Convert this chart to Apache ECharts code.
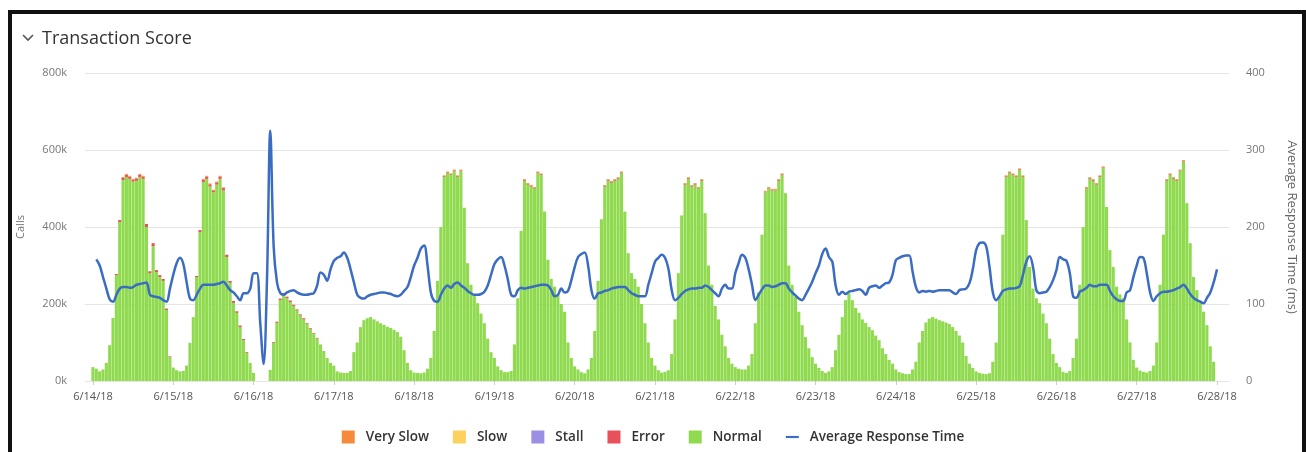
<!DOCTYPE html>
<html>
<head>
<meta charset="utf-8">
<script src="https://cdn.jsdelivr.net/npm/echarts/dist/echarts.min.js"></script>
<style>
html,body{margin:0;padding:0;background:#fff;}
#chart{position:absolute;left:0;top:0;width:1306px;height:452px;}
#frame{position:absolute;left:8px;top:10px;width:1298px;height:470px;border:4px solid #111;box-sizing:border-box;pointer-events:none;}
</style>
</head>
<body>
<div id="chart"></div>
<div id="frame"></div>
<script>
// ---- data (hourly, 6/14/18 00:00 .. 6/28/18 00:00) ----
const tickLabels = ['6/14/18','6/15/18','6/16/18','6/17/18','6/18/18','6/19/18','6/20/18','6/21/18','6/22/18','6/23/18','6/24/18','6/25/18','6/26/18','6/27/18','6/28/18'];
const callTicks = ['0k','200k','400k','600k','800k'];

// Normal calls (thousands per hour)
const normalCalls = [
  36,32,25,30,47,93,164,275,413,522,530,525,518,520,530,525,400,280,350,283,270,260,184,62,
  35,28,25,26,40,99,166,270,387,517,525,505,490,510,525,495,322,255,203,177,140,106,73,47,
  21,0,0,0,0,29,99,151,210,225,215,205,195,183,170,160,148,135,122,110,95,78,60,47,
  40,25,22,21,21,26,75,100,140,158,163,166,160,155,150,146,141,138,133,127,115,80,47,28,
  22,21,20,22,32,60,130,260,400,530,540,535,545,530,545,450,306,250,225,202,175,150,110,75,
  60,38,28,23,23,26,95,215,390,520,510,505,500,540,535,440,315,265,245,225,200,180,100,60,
  38,30,23,20,30,60,130,260,420,505,520,515,520,525,540,440,332,280,265,245,200,150,100,60,
  40,28,22,24,28,70,160,280,430,510,525,505,510,500,520,436,300,250,195,160,120,90,60,45,
  36,32,30,30,40,70,150,230,380,490,500,495,495,520,535,488,300,250,218,180,145,114,85,62,
  45,34,26,21,25,36,80,120,166,210,228,210,190,177,160,151,140,132,118,106,85,70,55,45,
  30,23,20,18,18,30,50,100,130,152,162,166,162,158,155,152,148,140,130,118,100,65,45,34,
  25,21,19,18,20,50,100,220,380,530,540,535,530,548,530,418,296,240,215,202,175,150,110,70,
  47,36,24,21,26,60,110,250,400,500,525,520,510,530,553,452,340,296,245,225,215,160,100,55,
  35,27,24,22,26,40,100,250,380,520,535,525,520,545,570,462,358,270,236,205,180,145,90,50
];
// Error calls (thousands per hour)
const errorCalls = [
  0,0,0,0,0,0,0,3,5,6,6,6,5,6,6,6,8,5,8,5,5,5,4,2,
  0,0,0,0,0,0,0,3,5,6,6,6,5,6,6,6,6,5,5,4,4,3,2,0,
  0,0,0,0,0,0,2,3,4,4,4,4,3,3,3,3,2,2,2,2,0,0,0,0,
  0,0,0,0,0,0,0,0,0,0,0,0,0,0,0,0,0,0,0,0,0,0,0,0,
  0,0,0,0,0,0,0,0,0,2,2,2,2,2,2,0,0,0,0,0,0,0,0,0,
  0,0,0,0,0,0,0,0,0,2,2,2,2,2,2,0,0,0,0,0,0,0,0,0,
  0,0,0,0,0,0,0,0,0,2,2,2,2,2,2,0,0,0,0,0,0,0,0,0,
  0,0,0,0,0,0,0,0,0,2,2,2,2,2,2,0,0,0,0,0,0,0,0,0,
  0,0,0,0,0,0,0,0,0,2,2,2,2,2,2,0,0,0,0,0,0,0,0,0,
  0,0,0,0,0,0,0,0,0,0,0,0,0,0,0,0,0,0,0,0,0,0,0,0,
  0,0,0,0,0,0,0,0,0,0,0,0,0,0,0,0,0,0,0,0,0,0,0,0,
  0,0,0,0,0,0,0,0,0,2,2,2,2,2,2,0,0,0,0,0,0,0,0,0,
  0,0,0,0,0,0,0,0,0,2,2,2,2,2,2,0,0,0,0,0,0,0,0,0,
  0,0,0,0,0,0,0,0,0,2,2,2,2,2,2,0,0,0,0,0,0,0,0,0
];
// Very slow calls (thousands per hour)
const verySlowCalls = [
  0,0,0,0,0,0,0,0,0,2,2,2,2,2,2,2,0,0,0,0,0,0,0,0,
  0,0,0,0,0,0,0,0,0,2,2,2,2,2,2,2,0,0,0,0,0,0,0,0,
  0,0,0,0,0,0,0,0,0,0,0,0,0,0,0,0,0,0,0,0,0,0,0,0,
  0,0,0,0,0,0,0,0,0,0,0,0,0,0,0,0,0,0,0,0,0,0,0,0,
  0,0,0,0,0,0,0,0,0,2,2,2,2,2,2,0,0,0,0,0,0,0,0,0,
  0,0,0,0,0,0,0,0,0,2,2,2,2,2,2,0,0,0,0,0,0,0,0,0,
  0,0,0,0,0,0,0,0,0,2,2,2,2,2,2,0,0,0,0,0,0,0,0,0,
  0,0,0,0,0,0,0,0,0,2,2,2,2,2,2,0,0,0,0,0,0,0,0,0,
  0,0,0,0,0,0,0,0,0,2,2,2,2,2,2,0,0,0,0,0,0,0,0,0,
  0,0,0,0,0,0,0,0,0,0,0,0,0,0,0,0,0,0,0,0,0,0,0,0,
  0,0,0,0,0,0,0,0,0,0,0,0,0,0,0,0,0,0,0,0,0,0,0,0,
  0,0,0,0,0,0,0,0,0,2,2,2,2,2,2,0,0,0,0,0,0,0,0,0,
  0,0,0,0,0,0,0,0,0,2,2,2,2,2,2,0,0,0,0,0,0,0,0,0,
  0,0,0,0,0,0,0,0,0,2,2,2,2,2,2,0,0,0,0,0,0,0,0,0
];
const slowCalls = [];
const stallCalls = [];
// Average response time (ms)
const responseTime = [
  158,150,135,120,106,103,112,120,122,122,121,122,125,126,127,128,112,110,109,108,105,103,120,138,
  153,160,152,128,107,105,112,120,125,125,125,125,126,127,129,124,118,115,110,105,114,114,120,140,
  140,75,22,130,325,175,128,114,112,115,117,118,115,113,112,112,113,114,124,141,138,130,145,156,
  160,162,167,160,145,128,112,108,107,110,112,113,114,115,115,114,113,111,110,112,117,122,135,150,
  160,172,176,150,115,104,103,112,120,124,121,126,128,124,121,117,114,112,112,113,116,124,138,152,
  158,161,150,132,112,110,118,121,120,121,122,123,124,125,125,124,118,110,112,120,115,117,131,148,
  161,165,167,150,118,107,114,115,117,118,120,121,122,122,122,118,114,112,110,110,110,125,140,155,
  160,164,160,146,118,105,108,113,117,119,120,120,121,121,124,122,118,114,110,120,125,120,120,140,
  153,164,160,145,125,105,112,119,124,124,122,123,125,127,127,120,115,111,107,105,112,120,129,140,
  150,165,172,161,155,124,112,116,113,116,117,118,119,117,112,121,123,124,121,124,127,128,138,157,
  160,162,163,163,142,122,115,117,116,117,116,117,118,118,118,118,115,113,118,119,120,127,145,170,
  179,180,175,148,115,105,110,117,119,120,120,121,123,138,155,162,148,118,114,115,116,122,131,144,
  161,158,156,140,110,108,116,118,121,125,123,123,125,125,125,117,110,106,104,104,115,118,135,150,
  161,160,140,115,104,110,114,116,116,117,118,120,122,125,120,113,108,105,103,101,108,115,128,145
];

// ---- chart ----
// bar data as [value, hour] so the stack is computed on the value dimension
const barPts = arr => arr.map((v, i) => [v, i + 1]);
const linePts = arr => arr.map((v, i) => [i + 1, v]);
const font = 'Open Sans';
const chart = echarts.init(document.getElementById('chart'), null, {renderer: 'canvas'});
const barCommon = {type: 'bar', xAxisIndex: 0, yAxisIndex: 0, barWidth: 3.1, clip: false, encode: {x: 1, y: 0}};
chart.setOption({
  animation: false,
  backgroundColor: '#fff',
  title: {
    text: 'Transaction Score', left: 42, top: 30, padding: 0,
    textStyle: {fontFamily: font, fontSize: 18, fontWeight: 'normal', color: '#333'}
  },
  graphic: [{
    type: 'polyline', shape: {points: [[23, 35], [28, 40], [33, 35]]},
    style: {stroke: '#555', lineWidth: 1.6, fill: null}
  }],
  legend: {
    data: [
      {name: 'Very Slow', icon: 'rect'},
      {name: 'Slow', icon: 'rect'},
      {name: 'Stall', icon: 'rect'},
      {name: 'Error', icon: 'rect'},
      {name: 'Normal', icon: 'rect'},
      {name: 'Average Response Time', icon: 'path://M0,0 H12 V2 H0 Z'}
    ],
    bottom: 8, left: 'center', padding: 0,
    itemWidth: 13, itemHeight: 13, itemGap: 24,
    textStyle: {fontFamily: font, fontSize: 13.5, fontWeight: 600, color: '#333', padding: [0, 0, 0, 6]}
  },
  grid: [
    {left: 93, right: 89, top: 73, bottom: 71},
    {left: 85, right: 74, top: 73, bottom: 71}
  ],
  xAxis: [
    {gridIndex: 0, type: 'value', min: 0, max: 336, interval: 24,
     axisLine: {show: false}, splitLine: {show: false},
     axisTick: {show: true, length: 4, lineStyle: {color: '#ccc'}},
     axisLabel: {formatter: v => tickLabels[v / 24] || '', fontFamily: font, fontSize: 11, color: '#555', margin: 10}},
    {gridIndex: 1, type: 'value', min: 0, max: 1, show: false}
  ],
  yAxis: [
    {gridIndex: 0, type: 'value', min: 0, max: 800, interval: 200, show: false},
    {gridIndex: 0, type: 'value', min: 0, max: 400, interval: 100, show: false},
    {gridIndex: 1, type: 'value', position: 'left', min: 0, max: 800, interval: 200,
     name: 'Calls', nameLocation: 'middle', nameGap: 59,
     nameTextStyle: {fontFamily: font, fontSize: 11, color: '#777'},
     axisLine: {show: false}, axisTick: {show: false},
     axisLabel: {formatter: v => callTicks[v / 200], fontFamily: font, fontSize: 11, color: '#777', margin: 18},
     splitLine: {lineStyle: {color: '#e6e6e6'}}},
    {gridIndex: 1, type: 'value', position: 'right', min: 0, max: 400, interval: 100,
     name: 'Average Response Time (ms)', nameLocation: 'middle', nameGap: 56, nameRotate: -90,
     nameTextStyle: {fontFamily: font, fontSize: 13, color: '#666'},
     axisLine: {show: false}, axisTick: {show: false},
     axisLabel: {fontFamily: font, fontSize: 11, color: '#777', margin: 17},
     splitLine: {show: false}}
  ],
  series: [
    Object.assign({}, barCommon, {name: 'Normal', stack: 'calls', data: barPts(normalCalls), itemStyle: {color: '#8fda4e'}}),
    Object.assign({}, barCommon, {name: 'Error', stack: 'calls', data: barPts(errorCalls), itemStyle: {color: '#e8505b'}}),
    Object.assign({}, barCommon, {name: 'Very Slow', stack: 'calls', data: barPts(verySlowCalls), itemStyle: {color: '#f58a3a'}}),
    Object.assign({}, barCommon, {name: 'Stall', data: barPts(stallCalls), itemStyle: {color: '#9a8fe3'}}),
    Object.assign({}, barCommon, {name: 'Slow', data: barPts(slowCalls), itemStyle: {color: '#fdd15c'}}),
    {name: 'Average Response Time', type: 'line', xAxisIndex: 0, yAxisIndex: 1,
     data: linePts(responseTime), symbol: 'none', smooth: 0.35, z: 5,
     lineStyle: {color: '#3b6cc4', width: 2.5}, itemStyle: {color: '#3b6cc4'}}
  ]
});
</script>
</body>
</html>
